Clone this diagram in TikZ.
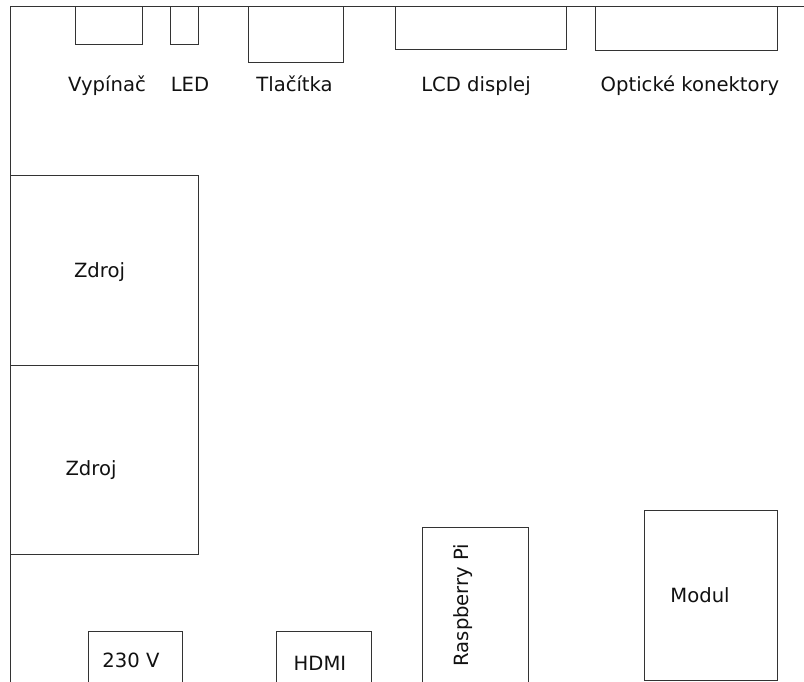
\documentclass[tikz,border=0pt]{standalone}
\usepackage{fontspec}
\setmainfont{DejaVu Sans}
\usetikzlibrary{positioning}
\definecolor{frame}{HTML}{333333}
\definecolor{ink}{HTML}{111111}

\tikzset{
  part/.style={draw=frame, line width=1pt, inner sep=0pt, outer sep=0pt, anchor=north west},
  lbl/.style={text=ink, font=\fontsize{19.6}{23}\selectfont, inner sep=0pt, anchor=base},
}

\begin{document}
\begin{tikzpicture}[x=1pt, y=-1pt]
  \useasboundingbox (0,0) rectangle (804,682);
  \clip (0,0) rectangle (804,682);

  % case walls
  \coordinate (corner) at (10,7);
  \draw[frame, line width=1pt] (corner -| 804,0) -- (corner) -- (corner |- 0,700);

  % front panel parts
  \node[part, minimum width=67pt, minimum height=38pt] (switch) at (75,7) {};
  \node[part, minimum width=28pt, minimum height=38pt] (led) at (170,7) {};
  \node[part, minimum width=95pt, minimum height=56pt] (buttons) at (248,7) {};
  \node[part, minimum width=171pt, minimum height=43pt] (lcd) at (395,7) {};
  \node[part, minimum width=182pt, minimum height=44pt] (optics) at (595,7) {};

  \node[lbl] (switchtxt) at (107,92) {Vypínač};
  \node[lbl] (ledtxt) at (190,92) {LED};
  \node[lbl] (buttonstxt) at (294.5,92) {Tlačítka};
  \node[lbl] (lcdtxt) at (476,92) {LCD displej};
  \node[lbl] (opticstxt) at (690,92) {Optické konektory};

  % power supplies
  \node[part, minimum width=188pt, minimum height=189pt] (psu1) at (10,176) {};
  \node[part, minimum width=188pt, minimum height=189pt] (psu2) at (10,365) {};
  \node[lbl] (psu1txt) at (99.5,277) {Zdroj};
  \node[lbl] (psu2txt) at (91,475) {Zdroj};

  % back side
  \node[part, minimum width=94pt, minimum height=70pt] (mains) at (88,631) {};
  \node[part, minimum width=95pt, minimum height=70pt] (hdmi) at (276,631) {};
  \node[part, minimum width=106pt, minimum height=170pt] (rpi) at (422,527) {};
  \node[part, minimum width=133pt, minimum height=170pt] (module) at (644,510) {};

  \node[lbl] (mainstxt) at (131,667) {230 V};
  \node[lbl] (hdmitxt) at (320,670) {HDMI};
  \node[lbl, rotate=90, anchor=center] (rpitxt) at (463,605) {Raspberry Pi};
  \node[lbl] (moduletxt) at (700,602) {Modul};
\end{tikzpicture}
\end{document}
